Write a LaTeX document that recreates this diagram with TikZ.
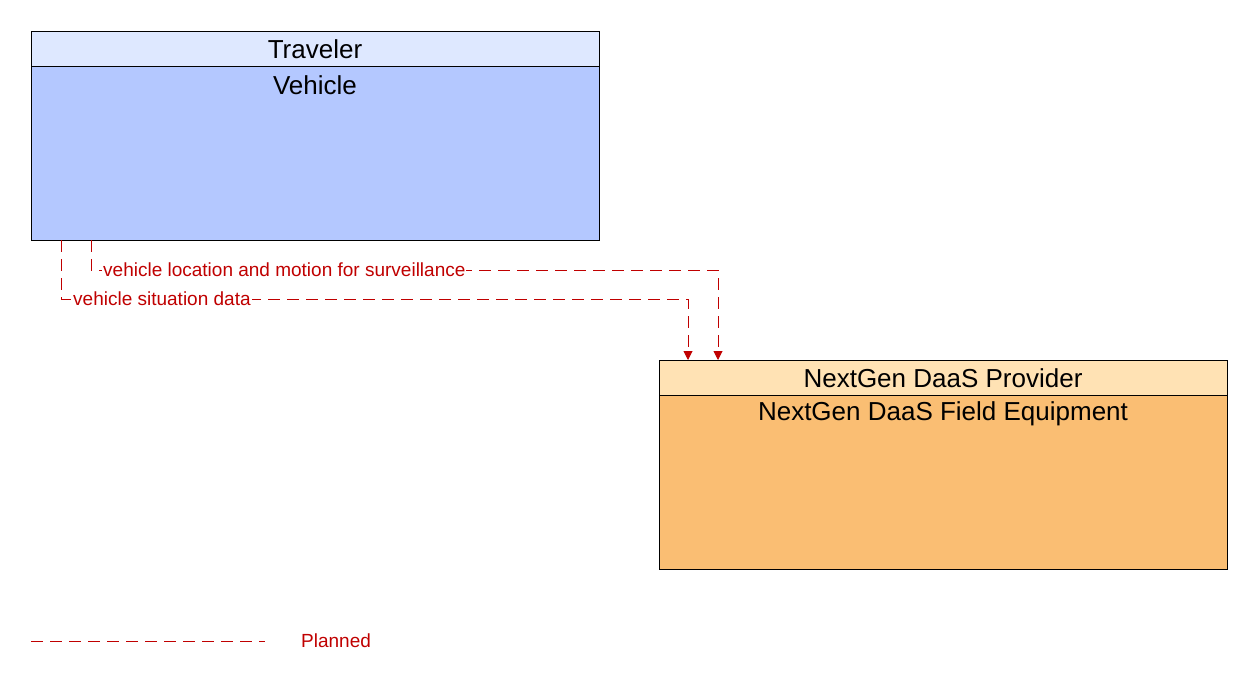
\documentclass[tikz,border=0pt]{standalone}
\usepackage{fontspec}
\setmainfont{Liberation Sans}
\usetikzlibrary{arrows.meta}
\definecolor{flow}{RGB}{192,0,0}
\definecolor{vhead}{RGB}{222,232,255}
\definecolor{vbody}{RGB}{180,200,255}
\definecolor{phead}{RGB}{255,226,180}
\definecolor{pbody}{RGB}{250,190,115}
\begin{document}
\begin{tikzpicture}[x=1pt,y=-1pt,
  box/.style={draw=black,line width=0.8pt},
  flowline/.style={draw=flow,line width=0.9pt,dash pattern=on 12pt off 7pt},
  lbl/.style={text=flow,font=\fontsize{19}{19}\selectfont,inner sep=1pt},
  ttl/.style={font=\fontsize{26}{26}\selectfont}]
\useasboundingbox (0,0) rectangle (1252,688);
% Vehicle
\path[box,fill=vbody] (31,66) rectangle (599,240);
\path[box,fill=vhead] (31,31) rectangle (599,66);
\node[ttl] (trav) at (315,49) {Traveler};
\node[ttl] (veh) at (315,85) {Vehicle};
% Provider
\path[box,fill=pbody] (659,395) rectangle (1227,569);
\path[box,fill=phead] (659,360) rectangle (1227,395);
\node[ttl] (prov) at (943,378) {NextGen DaaS Provider};
\node[ttl] (fe) at (943,414) {NextGen DaaS Field Equipment};
\coordinate (a1) at (91,240); \coordinate (a2) at (718,360);
\coordinate (b1) at (61,240); \coordinate (b2) at (688,360);
\draw[flowline,-{Triangle[length=9pt,width=9pt]}] (a1) -- (91,270) -- (718,270) -- (a2);
\draw[flowline,-{Triangle[length=9pt,width=9pt]}] (b1) -- (61,299) -- (688,299) -- (b2);
\node[lbl,fill=white,anchor=west] (l1) at (102,270) {vehicle location and motion for surveillance};
\node[lbl,fill=white,anchor=west] (l2) at (72,299) {vehicle situation data};
% legend
\coordinate (g1) at (31,641); \coordinate (g2) at (265,641);
\draw[flowline] (g1) -- (g2);
\node[lbl,anchor=west] (leg) at (300,641) {Planned};
\end{tikzpicture}
\end{document}
